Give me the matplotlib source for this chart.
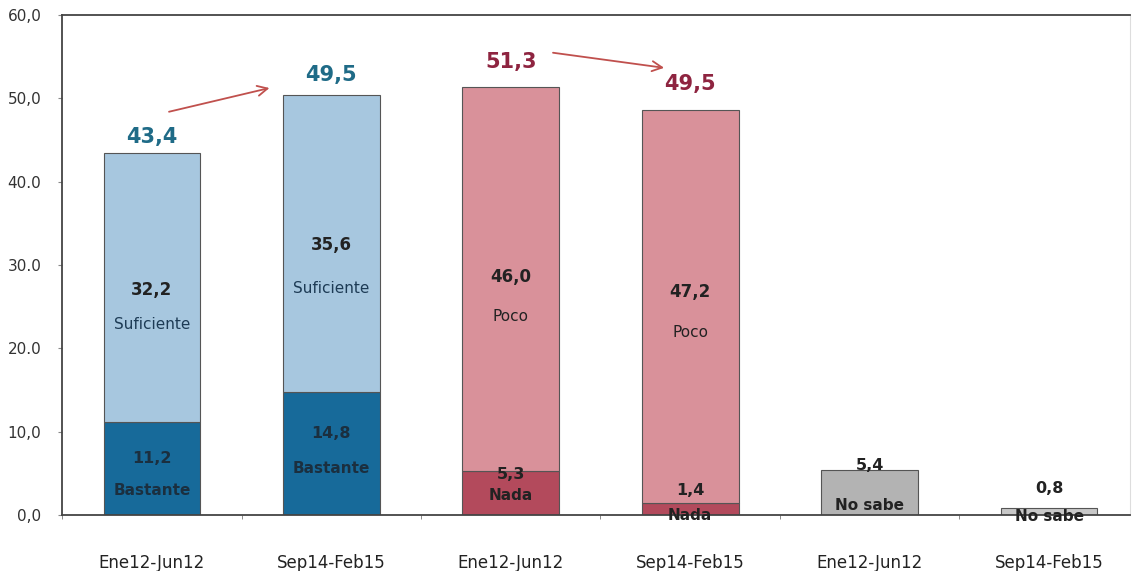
import matplotlib.pyplot as plt

periodos = ['Ene12-Jun12', 'Sep14-Feb15', 'Ene12-Jun12', 'Sep14-Feb15', 'Ene12-Jun12', 'Sep14-Feb15']

# segmento inferior y superior de cada barra
inferior = [11.2, 14.8, 5.3, 1.4, 5.4, 0.8]
superior = [32.2, 35.6, 46.0, 47.2, 0.0, 0.0]
nombre_inf = ['Bastante', 'Bastante', 'Nada', 'Nada', 'No sabe', 'No sabe']
nombre_sup = ['Suficiente', 'Suficiente', 'Poco', 'Poco', '', '']
totales = ['43,4', '49,5', '51,3', '49,5']
yticks = [0, 10, 20, 30, 40, 50, 60]
ytick_labels = ['0,0', '10,0', '20.0', '30.0', '40.0', '50,0', '60,0']

col_inf = ['#176a9a', '#176a9a', '#b34a5c', '#b34a5c', '#b3b3b3', '#c8c8c8']
col_sup = ['#a7c7df', '#a7c7df', '#d9919a', '#d9919a', 'none', 'none']
col_tot = ['#1f6b87', '#1f6b87', '#8e2440', '#8e2440']

fig = plt.figure(figsize=(11.32, 5.71), dpi=100)
ax = fig.add_axes([0.055, 0.098, 0.943, 0.876])

x = list(range(len(periodos)))
ax.bar(x, inferior, width=0.54, color=col_inf, edgecolor='#555555', linewidth=0.8)
ax.bar(x[:4], superior[:4], bottom=inferior[:4], width=0.54, color=col_sup[:4],
       edgecolor='#555555', linewidth=0.8)

ax.set_xlim(-0.49, 5.45)
ax.set_ylim(0, 60)
ax.set_yticks(yticks)
ax.set_yticklabels(ytick_labels, fontsize=11, color='#333333')
ax.set_xticks(x)
ax.set_xticklabels(periodos, fontsize=12, color='#222222')
ax.tick_params(axis='x', length=0, pad=28)
ax.tick_params(axis='y', length=3, color='#888888', pad=12)
ax.set_xticks([i + 0.5 for i in range(-1, 5)], minor=True)
ax.tick_params(axis='x', which='minor', length=3, color='#777777')
for s in ['top', 'bottom', 'left']:
    ax.spines[s].set_color('#444444')
    ax.spines[s].set_linewidth(1.3)
ax.spines['right'].set_color('#dddddd')

# etiquetas dentro de las barras (posiciones ajustadas a ojo)
pos_val_sup = [27.0, 32.4, 28.6, 26.7]
pos_nom_sup = [22.8, 27.2, 23.8, 21.9]
for i in range(4):
    ax.text(i, pos_val_sup[i], f'{superior[i]:.1f}'.replace('.', ','), ha='center', va='center',
            fontsize=12, fontweight='bold', color='#222222')
    ax.text(i, pos_nom_sup[i], nombre_sup[i], ha='center', va='center', fontsize=11,
            color='#1d3b55' if i < 2 else '#222222')

pos_val_inf = [6.8, 9.8, 4.9, 3.0, 6.0, 3.2]
pos_nom_inf = [3.0, 5.6, 2.4, 0.0, 1.2, -0.2]
for i in range(6):
    ax.text(i, pos_val_inf[i], f'{inferior[i]:.1f}'.replace('.', ','), ha='center', va='center',
            fontsize=11.5, fontweight='bold', color='#1b2f3f' if i < 2 else '#222222')
    ax.text(i, pos_nom_inf[i], nombre_inf[i], ha='center', va='center', fontsize=11,
            fontweight='bold', color='#1b2f3f' if i < 2 else '#222222', clip_on=False)

pos_tot = [45.4, 52.8, 54.4, 51.7]
for i in range(4):
    ax.text(i, pos_tot[i], totales[i], ha='center', va='center', fontsize=15,
            fontweight='bold', color=col_tot[i])

# flechas de cambio
ax.annotate('', xy=(0.67, 51.3), xytext=(0.08, 48.3),
            arrowprops=dict(arrowstyle='->', color='#c0504d', lw=1.3, mutation_scale=18))
ax.annotate('', xy=(2.87, 53.6), xytext=(2.22, 55.5),
            arrowprops=dict(arrowstyle='->', color='#c0504d', lw=1.3, mutation_scale=18))

fig.savefig('out.png', dpi=100)
